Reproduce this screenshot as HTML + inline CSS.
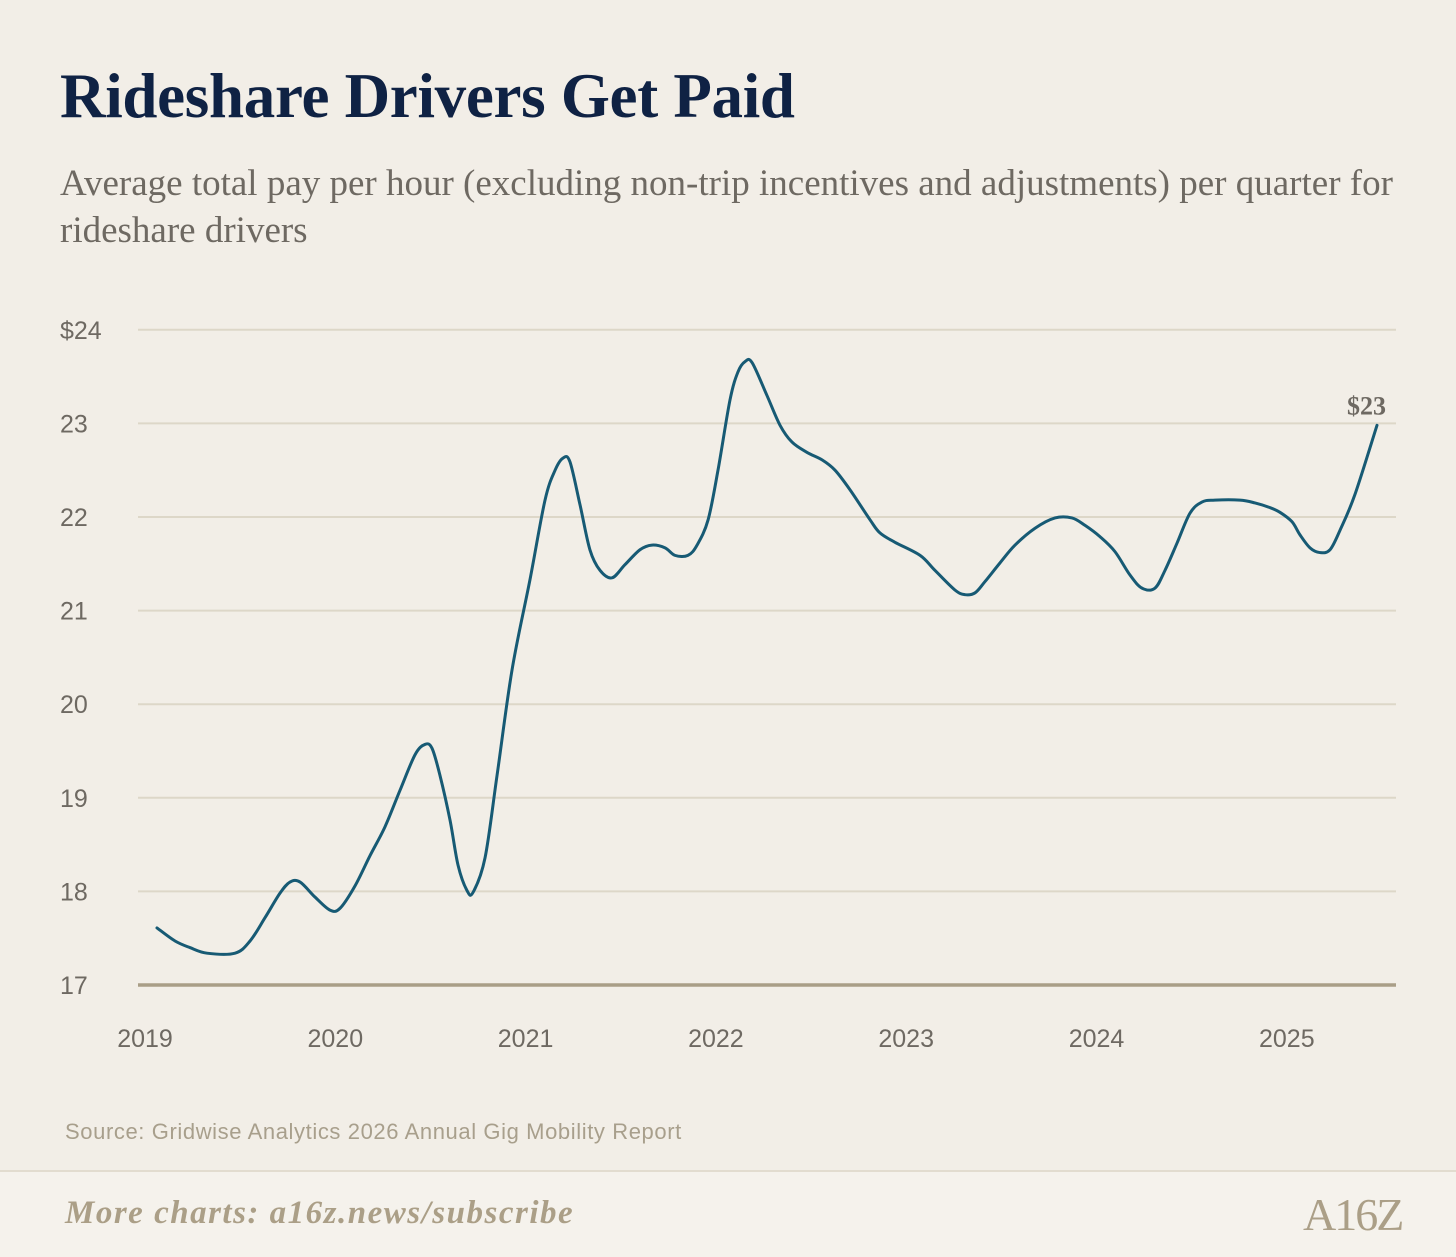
<!DOCTYPE html>
<html><head><meta charset="utf-8">
<style>
html,body{margin:0;padding:0;background:#f2eee7;}
#wrap{position:relative;width:1456px;height:1257px;overflow:hidden;background:#f2eee7;font-family:"Liberation Sans",sans-serif;}
#title{position:absolute;left:60px;top:60px;font-family:"Liberation Serif",serif;font-weight:bold;font-size:63px;color:#0f2244;letter-spacing:-0.3px;margin:0;}
#subtitle{position:absolute;left:60px;top:160px;width:1390px;font-family:"Liberation Serif",serif;font-size:37px;line-height:47px;color:#6e6962;margin:0;}
#source{position:absolute;left:65px;top:1119px;font-size:22px;letter-spacing:0.6px;color:#a89f8c;}
#footer{position:absolute;left:0;top:1170px;width:1456px;height:87px;background:#f5f2ec;border-top:2px solid #e2dccf;}
#more{position:absolute;left:65px;top:1195px;font-family:"Liberation Serif",serif;font-style:italic;font-weight:bold;font-size:33px;letter-spacing:1.5px;color:#ab9f87;}
#logo{position:absolute;left:1303px;top:1188px;font-family:"Liberation Serif",serif;font-size:46px;color:#ab9f87;letter-spacing:-2px;}
svg{position:absolute;left:0;top:0;}
</style></head><body>
<div id="wrap">
<h1 id="title">Rideshare Drivers Get Paid</h1>
<p id="subtitle">Average total pay per hour (excluding non-trip incentives and adjustments) per quarter for rideshare drivers</p>
<svg id="chart" width="1456" height="1100"></svg>
<div id="source">Source: Gridwise Analytics 2026 Annual Gig Mobility Report</div>
<div id="footer"></div>
<div id="more">More charts: a16z.news/subscribe</div>
<div id="logo">A16Z</div>
</div>
<script>
const yTicks=[17,18,19,20,21,22,23,24];
const yTickLabels=["17","18","19","20","21","22","23","$24"];
const xTicks=[2019,2020,2021,2022,2023,2024,2025];
const xTickLabels=["2019","2020","2021","2022","2023","2024","2025"];
const dates=[2019.063,2019.158,2019.236,2019.326,2019.473,2019.552,2019.631,2019.709,2019.762,2019.815,
2019.893,2019.972,2020.025,2020.104,2020.182,2020.261,2020.340,2020.419,2020.471,2020.508,
2020.550,2020.603,2020.645,2020.692,2020.724,2020.787,2020.850,2020.929,2021.023,2021.102,
2021.155,2021.197,2021.233,2021.286,2021.338,2021.391,2021.454,2021.522,2021.601,2021.664,
2021.733,2021.785,2021.853,2021.901,2021.959,2022.011,2022.074,2022.116,2022.153,2022.190,
2022.268,2022.337,2022.400,2022.479,2022.558,2022.626,2022.705,2022.810,2022.862,2022.941,
2023.073,2023.151,2023.256,2023.309,2023.362,2023.414,2023.493,2023.572,2023.677,2023.782,
2023.871,2023.940,2024.018,2024.097,2024.176,2024.239,2024.307,2024.360,2024.423,2024.491,
2024.554,2024.622,2024.754,2024.833,2024.912,2024.964,2025.027,2025.069,2025.122,2025.174,
2025.227,2025.280,2025.358,2025.474];
const values=[17.61,17.47,17.40,17.34,17.34,17.47,17.72,17.98,18.10,18.10,17.94,17.80,17.82,18.06,18.38,18.69,19.08,19.46,19.57,19.53,19.24,18.76,18.28,18.01,17.99,18.36,19.24,20.37,21.33,22.18,22.50,22.63,22.59,22.13,21.65,21.43,21.35,21.49,21.65,21.70,21.67,21.59,21.59,21.70,21.97,22.50,23.25,23.55,23.66,23.65,23.30,22.98,22.80,22.69,22.61,22.50,22.29,21.97,21.83,21.73,21.59,21.43,21.22,21.17,21.19,21.31,21.51,21.70,21.88,21.99,21.99,21.91,21.79,21.63,21.38,21.24,21.24,21.43,21.72,22.04,22.16,22.18,22.18,22.15,22.10,22.05,21.95,21.81,21.67,21.62,21.65,21.86,22.24,22.98];
const endLabel="$23";
const NS="http://www.w3.org/2000/svg";
const svg=document.getElementById('chart');
const xs=d=>145+(d-2019)*190.3;
const ys=v=>985-(v-17)*93.6;
function mk(t,a){const e=document.createElementNS(NS,t);for(const k in a)e.setAttribute(k,a[k]);svg.appendChild(e);return e;}
yTicks.forEach((t,i)=>{
  if(t!==17){const l=mk('line',{x1:138,x2:1396,y1:ys(t),y2:ys(t),stroke:'#ddd7c8','stroke-width':2});
  
  }
  const tx=mk('text',{x:60,y:ys(t)+9,'font-size':25,fill:'#6e6962','font-family':'Liberation Sans, sans-serif'});
  tx.textContent=yTickLabels[i];
  
  
});
const base=mk('line',{x1:138,x2:1396,y1:ys(17),y2:ys(17),stroke:'#a99e87','stroke-width':3.5});


xTicks.forEach((t,i)=>{
  const tx=mk('text',{x:xs(t),y:1047,'font-size':25,fill:'#6e6962','text-anchor':'middle','font-family':'Liberation Sans, sans-serif'});
  tx.textContent=xTickLabels[i];
  
  
});
const P=dates.map((d,i)=>[xs(d),ys(values[i])]);
let p='M'+P[0][0]+','+P[0][1];
for(let i=0;i<P.length-1;i++){
  const p0=P[Math.max(0,i-1)],p1=P[i],p2=P[i+1],p3=P[Math.min(P.length-1,i+2)];
  const c1=[p1[0]+(p2[0]-p0[0])/6,p1[1]+(p2[1]-p0[1])/6];
  const c2=[p2[0]-(p3[0]-p1[0])/6,p2[1]-(p3[1]-p1[1])/6];
  p+=' C'+c1+' '+c2+' '+p2;
}
const line=mk('path',{d:p,fill:'none',stroke:'#175a74','stroke-width':3,'stroke-linejoin':'round','stroke-linecap':'round'});


const last=P[P.length-1];
const el=mk('text',{x:last[0]-30,y:last[1]-11,'font-size':26,'font-weight':'bold',fill:'#6e6962','font-family':'Liberation Serif, serif'});
el.textContent=endLabel;


</script>
</body></html>
